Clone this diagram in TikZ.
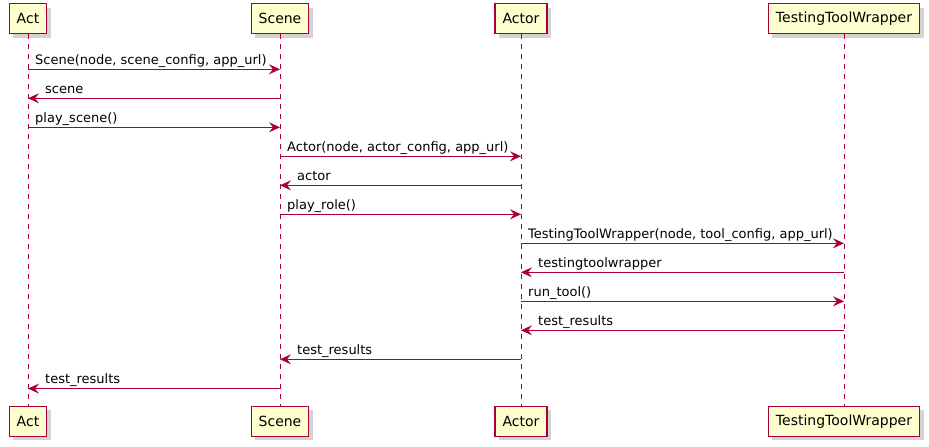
\documentclass[tikz,border=0pt]{standalone}
\usepackage{fontspec}
\setmainfont{DejaVu Sans}
\usetikzlibrary{arrows.meta,shadows}
\definecolor{umlred}{HTML}{A80036}
\definecolor{umlfill}{HTML}{FEFECE}
\tikzset{
 part/.style={draw=umlred, fill=umlfill, line width=1.3pt, minimum height=30pt, inner xsep=7.5pt,
  font=\fontsize{14}{16}\selectfont,
  drop shadow={opacity=0.35, shadow xshift=4pt, shadow yshift=-4pt}},
 lifeline/.style={draw=umlred, line width=1pt, dash pattern=on 5pt off 5pt},
 msg/.style={draw=umlred, line width=1pt, -{Stealth[length=11pt,width=10pt,inset=4pt]}},
 lbl/.style={anchor=base west, inner sep=0pt}
}
\begin{document}
\begin{tikzpicture}[x=1pt, y=-1pt, font=\fontsize{13}{15}\selectfont]
\useasboundingbox (0,0) rectangle (929,447);
% participants and lifelines
\foreach \n/\t/\x in {act/Act/28, scene/Scene/280, actor/Actor/521, ttw/TestingToolWrapper/844} {
 \node[part] (\n-top) at (\x,18.5) {\t};
 \node[part] (\n-bot) at (\x,421.2) {\t};
 \draw[lifeline] (\n-top.south) -- (\n-bot.north);
}
% calls
\foreach \i/\y/\a/\b/\t in {1/69.3/act/scene/{Scene(node, scene\_config, app\_url)},
 3/127.3/act/scene/{play\_scene()},
 4/156.3/scene/actor/{Actor(node, actor\_config, app\_url)},
 6/214.3/scene/actor/{play\_role()},
 7/243.3/actor/ttw/{TestingToolWrapper(node, tool\_config, app\_url)},
 9/301.3/actor/ttw/{run\_tool()}} {
 \coordinate (m\i-from) at (\a-top.south |- 0,\y);
 \coordinate (m\i-to) at (\b-top.south |- 0,\y);
 \draw[msg] (m\i-from) -- (m\i-to);
 \node[lbl, xshift=7pt, yshift=5pt] (l\i) at (m\i-from) {\t};
}
% returns
\foreach \i/\y/\a/\b/\t in {2/98.3/scene/act/scene,
 5/185.3/actor/scene/actor,
 8/272.3/ttw/actor/testingtoolwrapper,
 10/330.3/ttw/actor/{test\_results},
 11/359.3/actor/scene/{test\_results},
 12/388.6/scene/act/{test\_results}} {
 \coordinate (m\i-from) at (\a-top.south |- 0,\y);
 \coordinate (m\i-to) at (\b-top.south |- 0,\y);
 \draw[msg] (m\i-from) -- (m\i-to);
 \node[lbl, xshift=17pt, yshift=5pt] (l\i) at (m\i-to) {\t};
}
\end{tikzpicture}
\end{document}
